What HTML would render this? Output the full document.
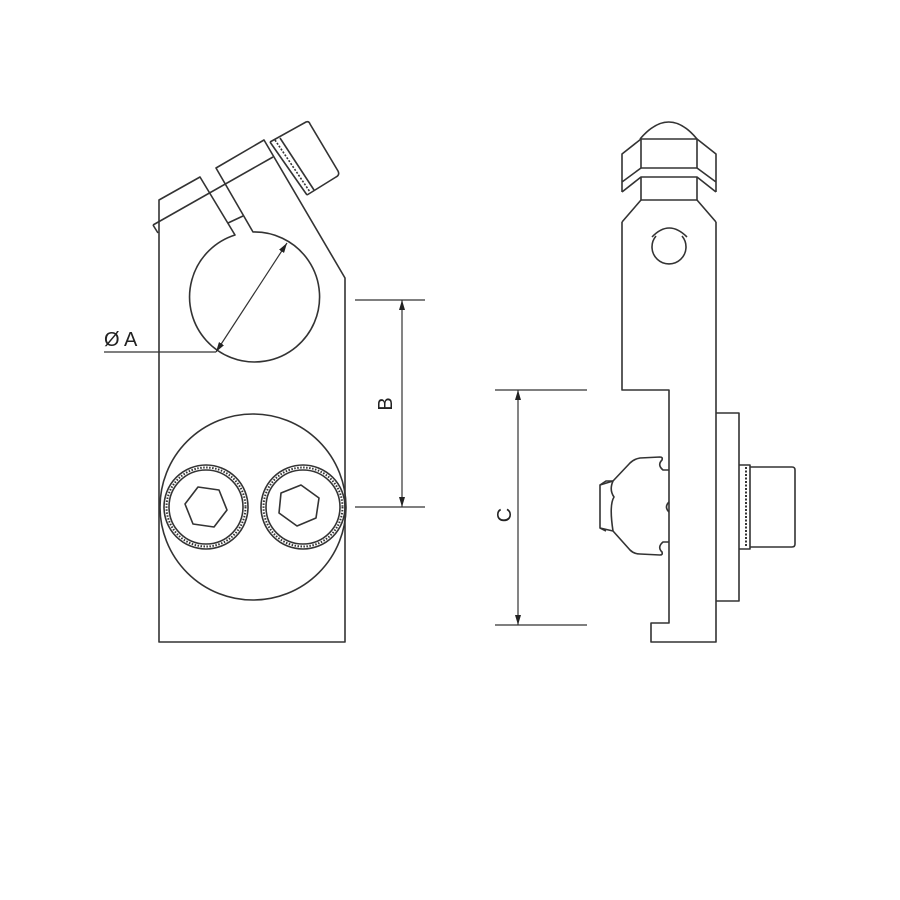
<!DOCTYPE html>
<html><head><style>html,body{margin:0;padding:0;background:#fff}svg{display:block}</style></head>
<body>
<svg width="900" height="900" viewBox="0 0 900 900" xmlns="http://www.w3.org/2000/svg">
<defs>
<marker id="ar" viewBox="0 0 10 6" refX="10" refY="3" markerWidth="10" markerHeight="6" orient="auto-start-reverse" markerUnits="userSpaceOnUse"><path d="M0,0 L10,3 L0,6 z" fill="#222"/></marker>
</defs>
<g fill="none" stroke="#333" stroke-width="1.6" stroke-linejoin="round">
<path d="M159,642 L159,200 L200,177 L235,235 A65,65 0 1 0 253,232 L216,168 L264,140 L345,278 L345,642 Z"/>
<path d="M153,225 L273,157"/>
<path d="M153,225 L158,233"/>
<path d="M228,223 L243,216"/>
<path d="M270,142 L306,122 Q309,121 310,124 L338,171 Q340,175 336,177 L307,195"/>
<path d="M270,142 L307,195"/>
<path d="M275,140 L310,192" stroke-dasharray="2,1.5"/>
<path d="M280,138 L314,190"/>
<circle cx="253" cy="507" r="93"/>
<circle cx="206" cy="507" r="42"/>
<circle cx="206" cy="507" r="37"/>
<circle cx="206" cy="507" r="39.5" stroke-dasharray="1.5,1.5" stroke-width="2"/>
<circle cx="303" cy="507" r="42"/>
<circle cx="303" cy="507" r="37"/>
<circle cx="303" cy="507" r="39.5" stroke-dasharray="1.5,1.5" stroke-width="2"/>
<polygon points="198,487 219,490 227,510 214,527 193,524 185,504"/>
<polygon points="301,485 319,498 316,518 297,526 279,513 281,493"/>
<path d="M104,352 L216,352" stroke-width="1.2"/>
<path d="M216,352 L287,243" stroke-width="1.2" marker-start="url(#ar)" marker-end="url(#ar)"/>
<path d="M355,300 L425,300 M355,507 L425,507" stroke-width="1.2"/>
<path d="M402,300 L402,507" stroke-width="1.2" marker-start="url(#ar)" marker-end="url(#ar)"/>
<path d="M640,139 Q669,105 697,139"/>
<path d="M641,139 L697,139 L697,168 L641,168 Z"/>
<path d="M641,177 L697,177 L697,200 L641,200 Z"/>
<path d="M641,139 L622,154 L622,182 L641,168 M622,192 L641,177 M641,200 L622,222 M622,182 L622,192"/>
<path d="M697,139 L716,154 L716,182 L697,168 M716,192 L697,177 M697,200 L716,222 M716,182 L716,192"/>
<path d="M656,236 A17,17 0 1 0 682,236"/>
<path d="M652,237 Q669,219 687,237"/>
<path d="M622,222 L622,390 L669,390 L669,623 L651,623 L651,642 L716,642 L716,222"/>
<path d="M716,413 L739,413 L739,601 L716,601"/>
<path d="M739,465 L750,465 L750,549 L739,549"/>
<path d="M746,467 L746,547" stroke-dasharray="2,1.5" stroke-width="2"/>
<path d="M750,467 L792,467 Q795,467 795,470 L795,544 Q795,547 792,547 L750,547"/>
<path d="M669,470 L663,470 Q657,465 662,460 Q663,457 660,457 L640,458 Q634,459 630,463 L613,481 L600,485 L600,528 L613,531 L630,550 Q634,554 640,554 L660,555 Q663,555 662,552 Q657,547 663,542 L669,542"/>
<path d="M613,481 Q609,490 614,497 Q609,505 613,531"/>
<path d="M600,485 L606,481 L613,481 M600,528 L606,531"/>
<path d="M669,502 Q664,507 669,512"/>
<path d="M495,390 L587,390 M495,625 L587,625" stroke-width="1.2"/>
<path d="M518,390 L518,625" stroke-width="1.2" marker-start="url(#ar)" marker-end="url(#ar)"/>
</g>
<g font-family="Liberation Sans, sans-serif" font-size="20" fill="#222">
<text x="104" y="346">Ø A</text>
<text transform="translate(392,404) rotate(-90)" text-anchor="middle">B</text>
<text transform="translate(511,515) rotate(-90)" text-anchor="middle">C</text>
</g>
</svg>
</body></html>
